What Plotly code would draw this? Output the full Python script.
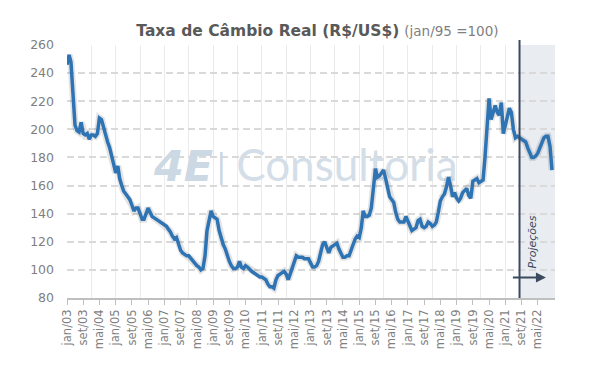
import pandas as pd
import plotly.graph_objects as go

# ---- data (monthly, jan/03 .. dez/22) ----
values = [
    246, 253, 248, 222, 203, 199, 198, 205, 197, 196, 197, 193,   # 2003
    196, 196, 195, 197, 208, 207, 201, 195, 191, 187, 180, 175,   # 2004
    169, 174, 165, 160, 156, 154, 152, 150, 146, 142, 144, 144,   # 2005
    140, 136, 136, 140, 144, 141, 138, 137, 136, 135, 134, 133,   # 2006
    132, 131, 129, 127, 124, 122, 123, 118, 114, 112, 111, 110,   # 2007
    110, 108, 106, 105, 103, 102, 100, 101, 110, 128, 137, 142,   # 2008
    138, 137, 136, 128, 122, 118, 115, 110, 106, 103, 101, 101,   # 2009
    102, 106, 102, 101, 103, 102, 100, 99, 98, 97, 96, 95,        # 2010
    95, 94, 93, 90, 88, 88, 87, 93, 96, 97, 98, 99,               # 2011
    97, 93, 97, 101, 106, 110, 109, 109, 109, 108, 108, 108,      # 2012
    105, 102, 102, 103, 106, 112, 118, 120, 115, 112, 116, 117,   # 2013
    118, 119, 115, 112, 109, 109, 110, 110, 114, 119, 122, 124,   # 2014
    123, 130, 142, 138, 138, 139, 144, 158, 172, 166, 167, 169,   # 2015
    171, 165, 157, 152, 150, 148, 141, 136, 134, 134, 134, 138,   # 2016
    135, 131, 128, 129, 130, 135, 136, 131, 130, 131, 134, 133,   # 2017
    131, 132, 134, 141, 149, 152, 154, 159, 166, 160, 152, 155,   # 2018
    151, 149, 151, 155, 157, 158, 153, 151, 163, 164, 165, 162,   # 2019
    163, 164, 180, 205, 222, 207, 212, 217, 212, 210, 219, 197,   # 2020
    203, 210, 215, 212, 200, 194, 195, 194, 193, 192, 191, 187,   # 2021
    183, 180, 180, 181, 183, 187, 191, 194, 195, 195, 188, 171,   # 2022
]
dates = pd.date_range("2003-01-01", periods=len(values), freq="MS")

tick_dates = pd.date_range("2003-01-01", "2022-05-01", freq="8MS")
tick_labels = [
    "jan/03", "set/03", "mai/04", "jan/05", "set/05", "mai/06", "jan/07", "set/07",
    "mai/08", "jan/09", "set/09", "mai/10", "jan/11", "set/11", "mai/12", "jan/13",
    "set/13", "mai/14", "jan/15", "set/15", "mai/16", "jan/17", "set/17", "mai/18",
    "jan/19", "set/19", "mai/20", "jan/21", "set/21", "mai/22",
]
year_grid = pd.date_range("2003-01-01", "2022-01-01", freq="YS")
y_ticks = [80, 100, 120, 140, 160, 180, 200, 220, 240, 260]

projection_start = "2021-08-01"
x_end = "2023-01-15"

FONT = "DejaVu Sans"
GRAY = "#7f7f7f"
SLATE = "#3b4a5e"

fig = go.Figure()

# watermark (behind the line)
fig.add_trace(go.Scatter(
    x=["2007-10-15", "2009-05-01", "2014-07-01"],
    y=[171, 171, 171],
    mode="text",
    text=["<b><i>4E</i></b>", "|", "Consultoria"],
    textfont=dict(family=[FONT, "Lato", "Lato"], size=[43, 34, 44],
                  color=["#ccd8e3", "#c9d6e1", "#d3dee8"]),
    hoverinfo="skip", showlegend=False,
))

# soft shadow
fig.add_trace(go.Scatter(
    x=dates, y=values, mode="lines",
    line=dict(color="rgba(40,40,40,0.13)", width=7),
    hoverinfo="skip", showlegend=False,
))
fig.add_trace(go.Scatter(
    x=dates, y=values, mode="lines",
    line=dict(color="#2e74b5", width=3.5),
    showlegend=False, name="Taxa de Câmbio Real",
))

# projection shading + vertical line
fig.add_shape(type="rect", xref="x", yref="paper",
              x0=projection_start, x1=x_end, y0=0, y1=1,
              fillcolor="#e9edf2", line_width=0, layer="below")
fig.add_shape(type="line", xref="x", yref="paper",
              x0=projection_start, x1=projection_start, y0=0, y1=1.02,
              line=dict(color=SLATE, width=2))

fig.add_annotation(x="2022-02-15", y=120, xref="x", yref="y",
                   text="<i>Projeções</i>", textangle=-90, showarrow=False,
                   font=dict(family=FONT, size=11, color=SLATE))
fig.add_annotation(x="2022-09-01", y=94.5, ax="2021-04-01", ay=94.5,
                   xref="x", yref="y", axref="x", ayref="y",
                   text="", showarrow=True, arrowhead=2, arrowsize=1,
                   arrowwidth=2, arrowcolor=SLATE)

fig.update_layout(
    width=573, height=369,
    margin=dict(l=59, r=26, t=37, b=79),
    paper_bgcolor="white", plot_bgcolor="white",
    title=dict(
        text="<b>Taxa de Câmbio Real (R$/US$)</b> <span style='font-size:13.5px;color:#808080'>(jan/95 =100)</span>",
        x=0.54, xanchor="center", y=0.94, yanchor="middle",
        font=dict(family=FONT, size=15.5, color="#595959"),
    ),
    xaxis=dict(
        type="date", range=["2003-01-01", x_end],
        tickmode="array", tickvals=tick_dates, ticktext=tick_labels,
        tickangle=-90, tickfont=dict(family=FONT, size=11.5, color=GRAY),
        ticks="outside", ticklen=5, tickcolor="#bfbfbf", tickwidth=1,
        showline=True, linecolor="#bfbfbf", linewidth=1.5,
        showgrid=False, zeroline=False,
        minor=dict(tickmode="array", tickvals=year_grid, showgrid=True,
                   gridcolor="#ebebeb", gridwidth=1, ticklen=0),
    ),
    yaxis=dict(
        range=[80, 260], tickmode="array", tickvals=y_ticks,
        tickfont=dict(family=FONT, size=12.5, color=GRAY),
        showgrid=True, gridcolor="#d9d9d9", gridwidth=1.5, griddash="7px,4px",
        zeroline=False, showline=False, ticks="", ticklabelstandoff=12,
    ),
)

fig.write_html("out.html")
